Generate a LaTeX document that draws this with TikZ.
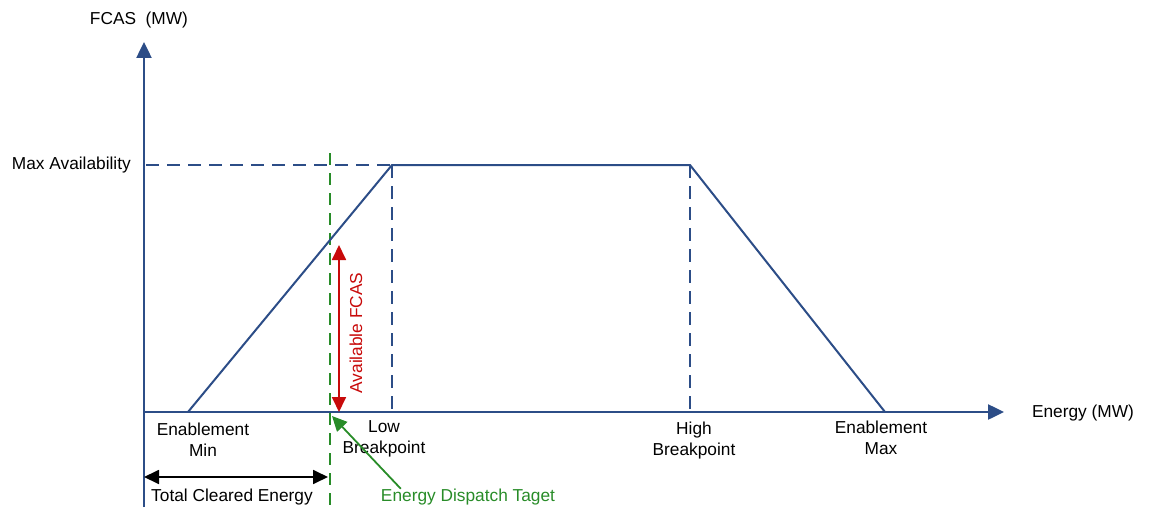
\documentclass[tikz,border=0pt]{standalone}
\usepackage{fontspec}
\setmainfont{Liberation Sans}
\usetikzlibrary{arrows.meta}
\definecolor{axisblue}{RGB}{44,77,135}
\definecolor{dispgreen}{RGB}{40,140,40}
\definecolor{fcasred}{RGB}{200,10,10}

\begin{document}
\begin{tikzpicture}[x=1pt,y=-1pt]
\tikzstyle{every node}+=[inner sep=0pt, font=\fontsize{17.3}{21}\selectfont]
\tikzstyle{axis}=[axisblue, line width=2.5pt, -{Triangle[length=16pt,width=15pt]}]
\tikzstyle{curve}=[axisblue, line width=2pt, line join=miter]
\tikzstyle{guide}=[axisblue, line width=1.8pt, dash pattern=on 13pt off 8pt]
\tikzstyle{target}=[dispgreen, line width=1.8pt, dash pattern=on 12pt off 8pt]
\useasboundingbox (0,0) rectangle (1152,511);
\coordinate (o) at (144,412);
\coordinate (ytop) at (144,42);
\coordinate (ybot) at (144,507);
\coordinate (xend) at (1004,412);
\coordinate (emin) at (188,412);
\coordinate (lowbp) at (392,165);
\coordinate (highbp) at (690,165);
\coordinate (emax) at (885,412);
\coordinate (lowbase) at (392,412);
\coordinate (highbase) at (690,412);
\coordinate (maxl) at (146,165);
\coordinate (dtop) at (330,153);
\coordinate (dbot) at (330,507);
\coordinate (redtop) at (339,245);
\coordinate (redbot) at (339,412);
\coordinate (tcl) at (144,477);
\coordinate (tcr) at (328,477);
\coordinate (dtip) at (332,416);
\node [anchor=east] (maxav) at (131,165) {Max Availability};
\node (fcas) at (139,20) {FCAS\ \ (MW)};
\node (energy) at (1083,413) {Energy (MW)};
\node [align=center] (enmin) at (203,440) {Enablement\\Min};
\node [align=center] (lowlab) at (384,439) {Low\\Breakpoint};
\node [align=center] (highlab) at (694,441) {High\\Breakpoint};
\node [align=center] (enmax) at (881,438) {Enablement\\Max};
\node [rotate=90, text=fcasred] (avail) at (356,333) {Available FCAS};
\node (total) at (232,497) {Total Cleared Energy};
\node [text=dispgreen] (disp) at (468,497) {Energy Dispatch Taget};
\draw [guide] (maxl) -- (lowbp);
\draw [guide] (lowbp) -- (lowbase);
\draw [guide] (highbp) -- (highbase);
\draw [target] (dtop) -- (dbot);
\draw [curve] (emin) -- (lowbp) -- (highbp) -- (emax);
\draw [axis] (ybot) -- (ytop);
\draw [axis] (o) -- (xend);
\draw [fcasred, line width=1.8pt, {Triangle[length=15pt,width=14pt]}-{Triangle[length=15pt,width=14pt]}] (redtop) -- (redbot);
\draw [black, line width=1.8pt, {Triangle[length=15pt,width=14pt]}-{Triangle[length=15pt,width=14pt]}] (tcl) -- (tcr);
\draw [dispgreen, line width=1.8pt, -{Triangle[length=15pt,width=14pt]}] ([xshift=20pt]disp.north west) -- (dtip);
\end{tikzpicture}
\end{document}
